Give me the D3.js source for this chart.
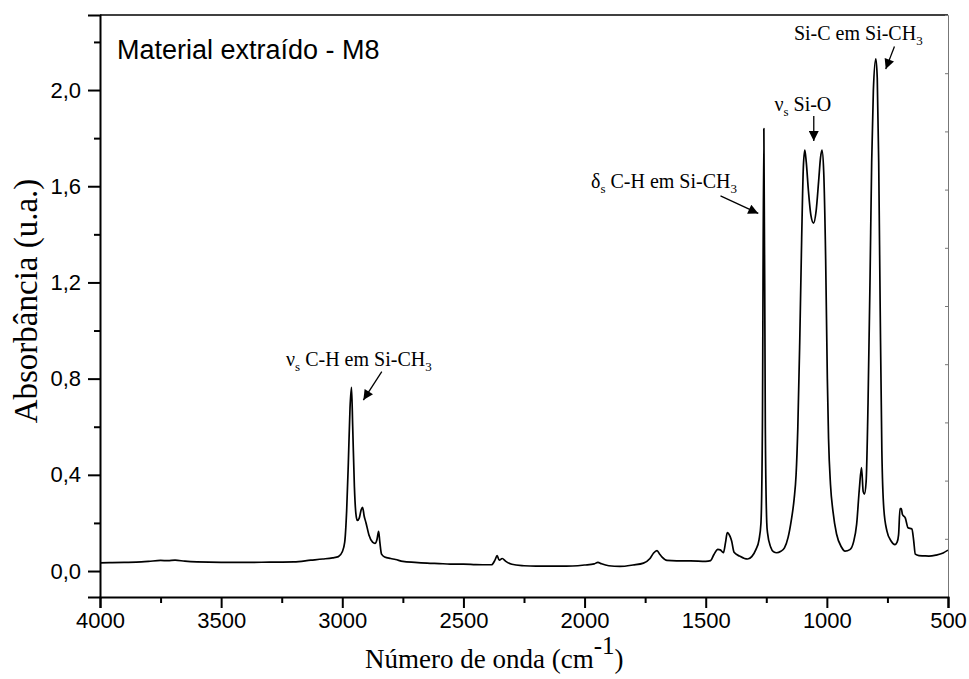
<!doctype html>
<html lang="pt">
  <head>
    <meta charset="UTF-8" />
    <title>Material extraído - M8</title>
    <style>
      body { margin: 0; background: #fff; }
      svg { display: block; }
    </style>
  </head>
  <body>
    <div id="target"></div>
    <script src="https://d3js.org/d3.v7.min.js"></script>
    <script>
      /* global d3 */

      // FTIR spectrum (cm-1, absorbance)
      const wavenumber = [
        4000, 3950, 3900, 3850, 3800, 3750, 3720, 3690, 3650, 3600, 3500, 3400,
        3300, 3200, 3130, 3080, 3040, 3016, 3000, 2990, 2982, 2975, 2968, 2962,
        2957, 2950, 2944, 2938, 2930, 2922, 2916, 2910, 2902, 2890, 2875, 2865,
        2857, 2850, 2845, 2838, 2825, 2800, 2780, 2750, 2700, 2650, 2600, 2555,
        2500, 2450, 2400, 2384, 2370, 2361, 2352, 2340, 2325, 2300, 2250, 2200,
        2150, 2100, 2050, 2000, 1960, 1945, 1930, 1900, 1854, 1800, 1757, 1730,
        1715, 1701, 1690, 1680, 1660, 1620, 1563, 1500, 1480, 1466, 1450, 1440,
        1427, 1418, 1411, 1400, 1393, 1383, 1360, 1340, 1327, 1310, 1293, 1280,
        1272, 1266, 1260, 1254, 1248, 1245, 1232, 1220, 1207, 1190, 1175, 1160,
        1147, 1135, 1127, 1120, 1112, 1104, 1097, 1091, 1085, 1076, 1066, 1055,
        1044, 1034, 1026, 1020, 1013, 1005, 998, 993, 985, 975, 960, 940, 925,
        905, 890, 877, 866, 857, 850, 845, 838, 830, 822, 815, 808, 798, 792,
        786, 780, 773, 765, 752, 735, 719, 710, 704, 698, 693, 688, 676, 665,
        649, 642, 635, 620, 600, 579, 550, 520, 500
      ];
      const absorbance = [
        0.034, 0.035, 0.036, 0.037, 0.04, 0.044, 0.043, 0.045, 0.041, 0.038, 0.036, 0.036,
        0.037, 0.038, 0.045, 0.05, 0.055, 0.06, 0.08, 0.12, 0.25, 0.45, 0.68, 0.764,
        0.6, 0.35, 0.24, 0.21, 0.22, 0.255, 0.265, 0.23, 0.2, 0.15, 0.12, 0.115,
        0.13, 0.165, 0.12, 0.07, 0.058, 0.052, 0.048, 0.04, 0.036, 0.033, 0.031, 0.029,
        0.029, 0.027, 0.026, 0.026, 0.045, 0.064, 0.045, 0.052, 0.04, 0.028, 0.022, 0.02,
        0.02, 0.02, 0.021, 0.025, 0.03, 0.036, 0.03, 0.022, 0.019, 0.025, 0.033, 0.052,
        0.075, 0.085, 0.07, 0.058, 0.044, 0.042, 0.042, 0.04, 0.043, 0.069, 0.09, 0.088,
        0.076, 0.12, 0.16, 0.145, 0.125, 0.078, 0.062, 0.052, 0.05, 0.06, 0.089, 0.13,
        0.2, 0.6, 1.84, 0.6, 0.2, 0.16, 0.1, 0.08, 0.076, 0.082, 0.096, 0.14,
        0.21, 0.3, 0.4, 0.59, 0.95, 1.38, 1.68, 1.75, 1.7, 1.58, 1.48, 1.447,
        1.5, 1.62, 1.72, 1.75, 1.66, 1.3, 0.8, 0.55, 0.36, 0.25, 0.154, 0.1, 0.083,
        0.089, 0.12, 0.195, 0.34, 0.43, 0.33, 0.32, 0.37, 0.7, 1.2, 1.7, 2.0, 2.13, 2.05,
        1.7, 1.1, 0.5, 0.26, 0.166, 0.125, 0.11, 0.12, 0.15, 0.26, 0.26, 0.235, 0.22, 0.18,
        0.175, 0.13, 0.07, 0.064, 0.063, 0.062, 0.066, 0.075, 0.087
      ];

      const xMajor = [4000, 3500, 3000, 2500, 2000, 1500, 1000, 500];
      const xMinor = [3750, 3250, 2750, 2250, 1750, 1250, 750];
      const yMajor = [0, 0.4, 0.8, 1.2, 1.6, 2.0];
      const yMinor = [0.2, 0.6, 1.0, 1.4, 1.8, 2.2];

      // annotations: text anchor point and arrow (from -> to) in data units
      const annLabels = ["ν|s| C-H em Si-CH|3", "δ|s| C-H em Si-CH|3", "ν|s| Si-O", "Si-C em Si-CH|3"];
      const annTextWn = [3232, 1371, 1099, 1136];
      const annTextAbs = [0.852, 1.593, 1.913, 2.208];
      const annAnchor = ["start", "end", "middle", "start"];
      const annArrowFrom = [[2837, 0.829], [1439, 1.56], [1054, 1.892], [721, 2.181]];
      const annArrowTo = [[2913, 0.711], [1283, 1.487], [1054, 1.788], [757, 2.087]];

      const width = 969,
        height = 679;
      const margin = { left: 100, right: 21, top: 15, bottom: 82 };

      const data = wavenumber.map((w, i) => ({ w, a: absorbance[i] }));

      const svg = d3
        .select("#target")
        .append("svg")
        .attr("width", width)
        .attr("height", height)
        .attr("viewBox", [0, 0, width, height]);

      const x = d3
        .scaleLinear()
        .domain([4000, 500])
        .range([margin.left, width - margin.right]);
      const y = d3
        .scaleLinear()
        .domain([-0.108, 2.312])
        .range([height - margin.bottom, margin.top]);
      const yRight = d3.scaleLinear().domain([0, 1]).range(y.range());

      const sans = "'Liberation Sans', Arial, sans-serif";
      const serif = "'Liberation Serif', 'Times New Roman', serif";

      // clip for the curve
      svg
        .append("clipPath")
        .attr("id", "clip")
        .append("rect")
        .attr("x", x(4000))
        .attr("y", y.range()[1])
        .attr("width", x(500) - x(4000))
        .attr("height", y.range()[0] - y.range()[1]);

      svg
        .append("path")
        .datum(data)
        .attr("clip-path", "url(#clip)")
        .attr("fill", "none")
        .attr("stroke", "#000")
        .attr("stroke-width", 1.7)
        .attr("stroke-linejoin", "round")
        .attr(
          "d",
          d3
            .line()
            .x((d) => x(d.w))
            .y((d) => y(d.a))
            .curve(d3.curveMonotoneX)
        );

      // top frame line
      svg
        .append("line")
        .attr("x1", x(4000))
        .attr("x2", x(500))
        .attr("y1", y.range()[1])
        .attr("y2", y.range()[1])
        .attr("stroke", "#000")
        .attr("stroke-width", 1.3);

      // right axis (inner ticks, gray)
      const gR = svg
        .append("g")
        .attr("transform", `translate(${x(500)},0)`)
        .call(d3.axisLeft(yRight).ticks(10).tickSize(3).tickFormat(""));
      gR.selectAll("path, line").attr("stroke", "#777").attr("stroke-width", 1);

      const fmt = (v) => d3.format(".1f")(v).replace(".", ",");

      // left axis
      const gL = svg.append("g").attr("transform", `translate(${x(4000)},0)`);
      gL.append("g")
        .call(d3.axisLeft(y).tickValues(yMinor).tickSize(6).tickFormat(""))
        .call((g) => g.select(".domain").remove());
      gL.append("g")
        .call(d3.axisLeft(y).tickValues(yMajor).tickSize(12).tickPadding(7).tickFormat(fmt));
      gL.selectAll("line, path").attr("stroke", "#000").attr("stroke-width", 2);
      gL.selectAll("text")
        .attr("fill", "#000")
        .style("font-family", sans)
        .style("font-size", "22px");

      // bottom axis
      const gB = svg.append("g").attr("transform", `translate(0,${y.range()[0]})`);
      gB.append("g")
        .call(d3.axisBottom(x).tickValues(xMinor).tickSize(6).tickFormat(""))
        .call((g) => g.select(".domain").remove());
      gB.append("g")
        .call(d3.axisBottom(x).tickValues(xMajor).tickSize(11).tickPadding(4).tickFormat(d3.format("d")));
      gB.selectAll("line, path").attr("stroke", "#000").attr("stroke-width", 2);
      gB.selectAll("text")
        .attr("fill", "#000")
        .style("font-family", sans)
        .style("font-size", "22px");

      // axis titles
      const xt = svg
        .append("text")
        .attr("x", 365)
        .attr("y", 668)
        .attr("text-anchor", "start")
        .style("font-family", serif)
        .style("font-size", "27px");
      xt.append("tspan").text("Número de onda (cm");
      xt.append("tspan").attr("dy", -14).style("font-size", "25px").text("-1");
      xt.append("tspan").attr("dy", 14).text(")");

      svg
        .append("text")
        .attr("transform", `translate(37,301) rotate(-90)`)
        .attr("text-anchor", "middle")
        .style("font-family", serif)
        .style("font-size", "33px")
        .text("Absorbância (u.a.)");

      // panel title
      svg
        .append("text")
        .attr("x", margin.left + 17)
        .attr("y", margin.top + 44)
        .style("font-family", sans)
        .style("font-size", "27px")
        .text("Material extraído - M8");

      // annotations
      svg
        .append("defs")
        .append("marker")
        .attr("id", "arrow")
        .attr("viewBox", "0 0 10 10")
        .attr("refX", 10)
        .attr("refY", 5)
        .attr("markerWidth", 15)
        .attr("markerHeight", 10)
        .attr("markerUnits", "userSpaceOnUse")
        .attr("orient", "auto")
        .append("path")
        .attr("d", "M0,0L10,5L0,10z")
        .attr("fill", "#000");

      annLabels.forEach((lab, i) => {
        const t = svg
          .append("text")
          .attr("x", x(annTextWn[i]))
          .attr("y", y(annTextAbs[i]))
          .attr("text-anchor", annAnchor[i])
          .style("font-family", serif)
          .style("font-size", "20px");
        lab.split("|").forEach((part, j) => {
          if (!part) return;
          const sub = j % 2 === 1;
          t.append("tspan")
            .attr("dy", sub ? 5 : j > 0 ? -5 : 0)
            .style("font-size", sub ? "13px" : null)
            .text(part);
        });
        svg
          .append("line")
          .attr("x1", x(annArrowFrom[i][0]))
          .attr("y1", y(annArrowFrom[i][1]))
          .attr("x2", x(annArrowTo[i][0]))
          .attr("y2", y(annArrowTo[i][1]))
          .attr("stroke", "#000")
          .attr("stroke-width", 1.3)
          .attr("marker-end", "url(#arrow)");
      });
    </script>
  </body>
</html>
